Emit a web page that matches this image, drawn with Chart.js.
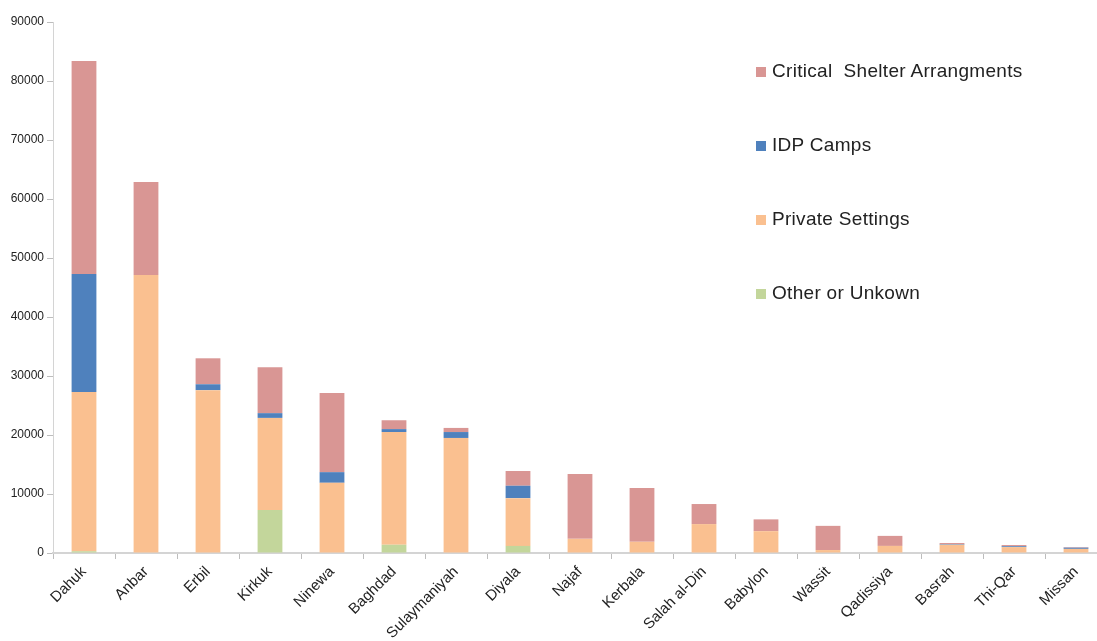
<!DOCTYPE html>
<html>
<head>
<meta charset="utf-8">
<script src="https://cdn.jsdelivr.net/npm/chart.js@4.4.1/dist/chart.umd.min.js"></script>
<style>
  html, body { margin: 0; padding: 0; background: #fff; overflow: hidden; }
  #wrap { position: relative; width: 1097px; height: 641px; overflow: hidden; }
  #shelterChart { position: absolute; left: 0; top: 0; }
  #legend { position: absolute; left: 756px; top: 59px; margin: 0; padding: 0; list-style: none;
            font-family: "Liberation Sans", Arial, sans-serif; font-size: 19px; letter-spacing: 0.3px; color: #222; }
  #legend li { height: 24px; line-height: 24px; margin-bottom: 50px; white-space: pre; }
  #legend span { display: inline-block; width: 10px; height: 10px; margin-right: 6px; vertical-align: 0; }
</style>
</head>
<body>
<div id="wrap">
  <canvas id="shelterChart" width="1107" height="641"></canvas>
  <ul id="legend"></ul>
</div>
<script>
// governorates, largest displaced population first
var governorates = ["Dahuk", "Anbar", "Erbil", "Kirkuk", "Ninewa", "Baghdad", "Sulaymaniyah",
  "Diyala", "Najaf", "Kerbala", "Salah al-Din", "Babylon", "Wassit", "Qadissiya",
  "Basrah", "Thi-Qar", "Missan"];

// individuals per shelter type
var otherUnknown = [300, 0, 0, 7300, 0, 1400, 0, 1200, 0, 0, 0, 0, 0, 0, 0, 0, 0];
var privateSettings = [27000, 47100, 27600, 15600, 11900, 19100, 19500, 8100, 2400, 1900, 4900, 3700, 500, 1200, 1400, 1000, 700];
var idpCamps = [20000, 0, 1000, 800, 1800, 500, 1000, 2100, 0, 0, 0, 0, 0, 0, 100, 150, 200];
var criticalShelter = [36100, 15800, 4400, 7800, 13400, 1500, 700, 2500, 11000, 9100, 3400, 2000, 4100, 1700, 200, 200, 100];

var yTicks = [0, 10000, 20000, 30000, 40000, 50000, 60000, 70000, 80000, 90000];

var fontFamily = '"Liberation Sans", Arial, sans-serif';

function ds(label, data, color) {
  return {
    label: label,
    data: data,
    backgroundColor: color,
    borderWidth: 0,
    barPercentage: 0.4,
    categoryPercentage: 1.0
  };
}

var chart = new Chart(document.getElementById("shelterChart"), {
  type: "bar",
  data: {
    labels: governorates,
    datasets: [
      ds("Other or Unkown", otherUnknown, "#C3D69B"),
      ds("Private Settings", privateSettings, "#FAC090"),
      ds("IDP Camps", idpCamps, "#4F81BD"),
      ds("Critical  Shelter Arrangments", criticalShelter, "#D99694")
    ]
  },
  options: {
    responsive: false,
    animation: false,
    layout: { padding: { top: 22, right: 0, left: 0, bottom: 0 } },
    plugins: {
      legend: { display: false },
      tooltip: { enabled: false }
    },
    scales: {
      x: {
        stacked: true,
        afterFit: function (scale) { scale.height = 88; },
        grid: { drawOnChartArea: false, drawTicks: true, tickLength: 6, color: "#bdbdbd" },
        border: { color: "#d4d4d4", width: 2 },
        ticks: {
          minRotation: 45,
          maxRotation: 45,
          padding: 4,
          color: "#222",
          font: { family: fontFamily, size: 15 }
        }
      },
      y: {
        stacked: true,
        min: 0,
        max: 90000,
        afterFit: function (scale) { scale.width = 53; },
        afterBuildTicks: function (scale) {
          scale.ticks = yTicks.map(function (v) { return { value: v }; });
        },
        grid: { drawOnChartArea: false, drawTicks: true, tickLength: 6, color: "#bdbdbd" },
        border: { color: "#d4d4d4", width: 1 },
        ticks: {
          padding: 3,
          color: "#222",
          font: { family: fontFamily, size: 12 },
          callback: function (value) { return String(value); }
        }
      }
    }
  }
});

// legend, top to bottom in reverse stacking order
var legend = document.getElementById("legend");
chart.data.datasets.slice().reverse().forEach(function (d) {
  var li = document.createElement("li");
  var box = document.createElement("span");
  box.style.background = d.backgroundColor;
  li.appendChild(box);
  li.appendChild(document.createTextNode(d.label));
  legend.appendChild(li);
});
</script>
</body>
</html>
